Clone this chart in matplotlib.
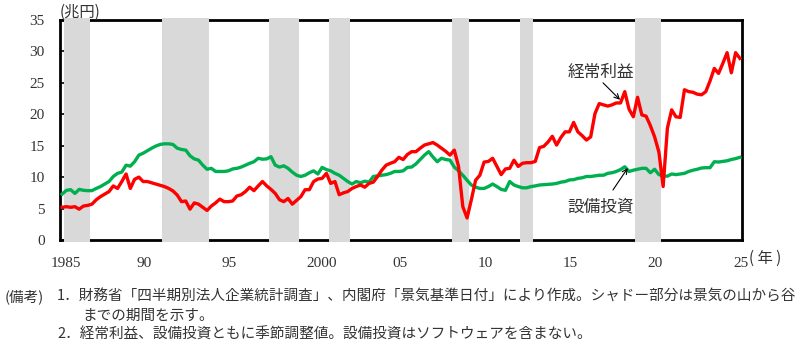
import numpy as np
import matplotlib
matplotlib.use('Agg')
import matplotlib.pyplot as plt
from matplotlib.transforms import ScaledTranslation

# 経常利益（兆円、季節調整値、四半期） 1985Q1〜2024Q4
profit = [
    5.2, 5.3, 5.2, 5.3,      # 1985
    4.9, 5.4, 5.5, 5.7,      # 1986
    6.4, 6.9, 7.3, 7.7,      # 1987
    8.6, 8.2, 9.3, 10.5,     # 1988
    8.2, 9.65, 10.0, 9.3,    # 1989
    9.3, 9.1, 8.9, 8.7,      # 1990
    8.5, 8.2, 7.8, 7.15,     # 1991
    6.1, 6.2, 4.9, 5.9,      # 1992
    5.7, 5.2, 4.7, 5.4,      # 1993
    5.9, 6.5, 6.1, 6.1,      # 1994
    6.2, 7.0, 7.2, 7.7,      # 1995
    8.4, 7.85, 8.6, 9.3,     # 1996
    8.6, 8.05, 7.4, 6.4,     # 1997
    6.1, 6.6, 5.7, 6.3,      # 1998
    6.9, 8.0, 8.0, 9.3,      # 1999
    9.7, 9.8, 10.6, 9.0,     # 2000
    9.3, 7.2, 7.5, 7.7,      # 2001
    8.2, 8.5, 8.75, 8.4,     # 2002
    9.0, 9.2, 10.1, 11.1,    # 2003
    11.9, 12.2, 12.45, 13.15,  # 2004
    12.8, 13.6, 14.05, 14.05,  # 2005
    14.6, 15.1, 15.3, 15.5,  # 2006
    15.1, 14.6, 14.1, 13.5,  # 2007
    14.3, 11.7, 5.3, 3.5,    # 2008
    6.4, 9.5, 10.3, 12.4,    # 2009
    12.5, 13.0, 11.7, 10.4,  # 2010
    11.3, 11.4, 12.7, 11.7,  # 2011
    12.2, 12.3, 12.3, 12.5,  # 2012
    14.7, 14.9, 15.6, 16.5,  # 2013
    15.1, 16.3, 17.2, 17.2,  # 2014
    18.7, 17.2, 16.6, 15.9,  # 2015
    16.4, 20.1, 21.7, 21.5,  # 2016
    21.3, 21.5, 21.8, 21.8,  # 2017
    23.6, 20.8, 19.6, 22.7,  # 2018
    19.9, 19.7, 18.2, 16.4,  # 2019
    14.0, 8.5, 17.8, 20.7,   # 2020
    19.6, 19.5, 23.9, 23.6,  # 2021
    23.5, 23.2, 23.1, 23.6,  # 2022
    25.3, 27.3, 26.5, 28.1,  # 2023
    29.8, 26.6, 29.8, 28.9,  # 2024
]

# 設備投資（兆円、季節調整値、ソフトウェア除く）
capex = [
    7.3, 7.9, 8.0, 7.4,      # 1985
    8.05, 7.9, 7.85, 7.85,   # 1986
    8.2, 8.5, 8.9, 9.3,      # 1987
    10.1, 10.6, 10.8, 11.9,  # 1988
    11.75, 12.45, 13.5, 13.8,  # 1989
    14.2, 14.6, 14.95, 15.2,  # 1990
    15.3, 15.3, 15.2, 14.6,  # 1991
    14.4, 14.3, 13.4, 12.9,  # 1992
    12.7, 11.9, 11.25, 11.4,  # 1993
    10.9, 10.9, 10.9, 11.0,  # 1994
    11.3, 11.4, 11.6, 11.9,  # 1995
    12.2, 12.45, 13.0, 12.85,  # 1996
    12.9, 13.25, 11.9, 11.6,  # 1997
    11.8, 11.4, 10.8, 10.3,  # 1998
    10.1, 10.3, 10.7, 11.0,  # 1999
    10.5, 11.55, 11.2, 11.0,  # 2000
    10.6, 10.3, 9.8, 9.3,    # 2001
    8.9, 9.3, 9.1, 9.35,     # 2002
    9.2, 10.1, 10.2, 10.3,   # 2003
    10.4, 10.6, 10.9, 10.9,  # 2004
    11.0, 11.55, 11.6, 12.1,  # 2005
    12.8, 13.5, 14.05, 13.2,  # 2006
    12.45, 13.0, 12.8, 12.7,  # 2007
    11.6, 11.0, 10.3, 9.5,   # 2008
    8.75, 8.4, 8.2, 8.2,     # 2009
    8.5, 8.9, 8.5, 8.05,     # 2010
    7.9, 9.3, 8.75, 8.5,     # 2011
    8.3, 8.3, 8.5, 8.6,      # 2012
    8.75, 8.8, 8.85, 8.9,    # 2013
    9.0, 9.2, 9.3, 9.55,     # 2014
    9.6, 9.8, 9.9, 10.1,     # 2015
    10.1, 10.2, 10.3, 10.3,  # 2016
    10.6, 10.7, 10.9, 11.2,  # 2017
    11.65, 10.9, 11.1, 11.25,  # 2018
    11.4, 11.4, 10.7, 11.25,  # 2019
    10.4, 10.2, 10.15, 10.5,  # 2020
    10.4, 10.5, 10.6, 10.9,  # 2021
    11.1, 11.25, 11.45, 11.5,  # 2022
    11.5, 12.45, 12.4, 12.5,  # 2023
    12.6, 12.8, 12.95, 13.15,  # 2024
]

# 景気の山・谷（年, 四半期）
peaks = [(1985, 2), (1991, 1), (1997, 2), (2000, 4), (2008, 1), (2012, 1), (2018, 4)]
troughs = [(1986, 4), (1993, 4), (1999, 1), (2002, 1), (2009, 1), (2012, 4), (2020, 2)]

xtick_years = [1985, 1990, 1995, 2000, 2005, 2010, 2015, 2020, 2025]
xtick_labels = ['1985', '90', '95', '2000', '05', '10', '15', '20', '25']

# 四半期の中央に点を置く
t = 1985 + (np.arange(len(profit)) + 0.5) / 4

plt.rcParams['font.family'] = ['Noto Sans CJK JP', 'DejaVu Sans']
serif = 'Liberation Serif'
txt_color = '#333333'

fig = plt.figure(figsize=(8.0, 3.47), dpi=100)
ax = fig.add_axes([0.075, 0.3084, 0.8525, 0.634])

for (py, pq), (ty, tq) in zip(peaks, troughs):
    x0 = py + (pq - 1) / 4
    x1 = ty + (tq - 1) / 4
    ax.axvspan(x0, x1, ymin=-0.008, ymax=1.008, color='#d9d9d9', lw=0,
               zorder=3, clip_on=False)

ax.plot(t, capex, color='#00b050', lw=2.4, zorder=4, solid_joinstyle='round')
ax.plot(t, profit, color='#ff0000', lw=2.4, zorder=5, solid_joinstyle='round')

ax.set_xlim(1985, 2025)
ax.set_ylim(0, 35)
ax.set_yticks(np.arange(0, 36, 5))
ax.set_xticks(xtick_years)
ax.set_xticklabels(xtick_labels)

for s in ax.spines.values():
    s.set_linewidth(2.0)
    s.set_color('black')

ax.tick_params(axis='y', direction='in', length=4, width=1.2, pad=11,
               labelsize=11, labelcolor=txt_color)
ax.tick_params(axis='x', length=0, pad=12, labelsize=11, labelcolor=txt_color)
for lab in ax.get_yticklabels():
    lab.set_fontfamily(serif)
offset = ScaledTranslation(-9 / 100, 0, fig.dpi_scale_trans)
for lab in ax.get_xticklabels():
    lab.set_fontfamily(serif)
    lab.set_ha('left')
    lab.set_transform(lab.get_transform() + offset)

# 単位
fig.text(60 / 800, 1 - 12 / 347, '(兆円)', fontsize=11, color=txt_color,
         ha='left', va='center')
fig.text(749 / 800, 1 - 258 / 347, '( 年 )', fontsize=11, color=txt_color,
         ha='left', va='center')

# 系列ラベルと矢印
arrow_kw = dict(arrowstyle='->', color='black', lw=0.8,
                shrinkA=0, shrinkB=0, mutation_scale=9)
ax.text(2016.7, 26.7, '経常利益', fontsize=12, color=txt_color,
        ha='center', va='center', zorder=6)
ax.annotate('', xy=(2017.85, 22.3), xytext=(2016.85, 25.0),
            arrowprops=arrow_kw, zorder=6)
ax.text(2016.7, 5.3, '設備投資', fontsize=12, color=txt_color,
        ha='center', va='center', zorder=6)
ax.annotate('', xy=(2018.3, 11.45), xytext=(2017.43, 7.95),
            arrowprops=arrow_kw, zorder=6)

# 備考
note_kw = dict(fontsize=10.5, color=txt_color, ha='left', va='center')
fig.text(5 / 800, 1 - 297 / 347, '(備考)', **note_kw)
fig.text(57 / 800, 1 - 297 / 347,
         '1．財務省「四半期別法人企業統計調査」、内閣府「景気基準日付」により作成。'
         'シャドー部分は景気の山から谷', **note_kw)
fig.text(82 / 800, 1 - 316 / 347, 'までの期間を示す。', **note_kw)
fig.text(57 / 800, 1 - 335 / 347,
         '2．経常利益、設備投資ともに季節調整値。設備投資はソフトウェアを含まない。',
         **note_kw)

fig.savefig('out.png', dpi=100)
